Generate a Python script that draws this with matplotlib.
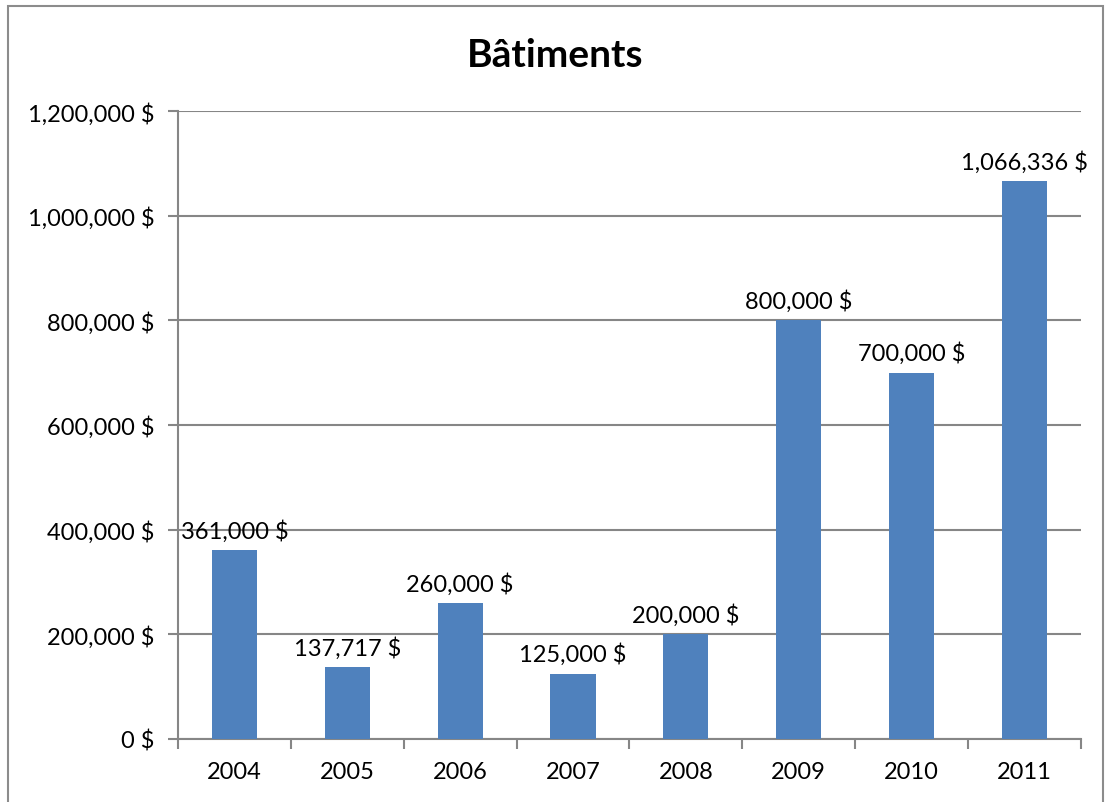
import matplotlib.pyplot as plt
import matplotlib.patches as patches
from matplotlib.ticker import FuncFormatter, FixedLocator

years = ['2004', '2005', '2006', '2007', '2008', '2009', '2010', '2011']
values = [361000, 137717, 260000, 125000, 200000, 800000, 700000, 1066336]

plt.rcParams['font.family'] = ['Lato', 'DejaVu Sans']

fig = plt.figure(figsize=(11.08, 8.03), dpi=100)
ax = fig.add_axes([0.1606, 0.0785, 0.8150, 0.782])

# outer chart border
fig.patches.append(patches.Rectangle((0.0072, -0.02), 0.988, 1.011, transform=fig.transFigure,
                                     fill=False, edgecolor='#8c8c8c', linewidth=1.5))

x = range(len(years))
bars = ax.bar(x, values, width=0.4, color='#4F81BD', zorder=3)

for xi, v in zip(x, values):
    ax.text(xi, v + 16000, f'{v:,.0f} $', ha='center', va='bottom', fontsize=17)

ax.set_xlim(-0.5, len(years) - 0.5)
ax.set_ylim(0, 1200000)
ax.set_yticks(range(0, 1200001, 200000))
ax.yaxis.set_major_formatter(FuncFormatter(lambda v, p: f'{v:,.0f} $'))
ax.set_xticks(list(x))
ax.set_xticklabels(years)
ax.xaxis.set_minor_locator(FixedLocator([i - 0.5 for i in range(len(years) + 1)]))
ax.tick_params(axis='x', which='major', length=0, pad=16, labelsize=17)
ax.tick_params(axis='x', which='minor', length=7, width=1.5, color='#868686')
ax.tick_params(axis='y', length=7, width=1.5, color='#868686', pad=10, labelsize=17)

ax.grid(axis='y', color='#868686', linewidth=1.5, zorder=0)
for s in ['top', 'right']:
    ax.spines[s].set_visible(False)
for s in ['left', 'bottom']:
    ax.spines[s].set_color('#868686')
    ax.spines[s].set_linewidth(1.5)

fig.text(0.501, 0.931, 'Bâtiments', ha='center', va='center', fontsize=28, fontweight='bold')

fig.savefig('out.png', dpi=100)
